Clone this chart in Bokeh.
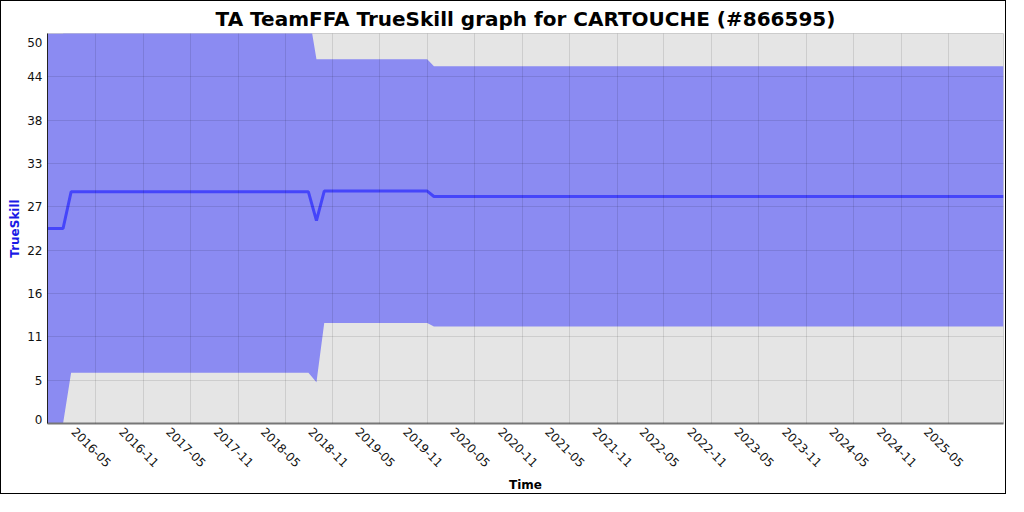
import math
from datetime import datetime
from bokeh.plotting import figure
from bokeh.models import FixedTicker, Range1d, ColumnDataSource
from bokeh.embed import file_html
from bokeh.resources import INLINE

# ---- data ----
dates = ["2015-10-28", "2015-12-27", "2016-01-27", "2018-07-30", "2018-08-30",
         "2018-09-29", "2019-10-31", "2019-11-26", "2025-11-30"]
mu = [25.0, 25.0, 29.7, 29.7, 26.0, 29.8, 29.8, 29.1, 29.1]
lower = [0.0, 0.0, 6.5, 6.5, 5.3, 12.9, 12.9, 12.45, 12.45]
upper = [50.0, 50.0, 52.9, 52.9, 46.7, 46.7, 46.7, 45.8, 45.8]

x_tick_labels = ["2016-05", "2016-11", "2017-05", "2017-11", "2018-05", "2018-11",
                 "2019-05", "2019-11", "2020-05", "2020-11", "2021-05", "2021-11",
                 "2022-05", "2022-11", "2023-05", "2023-11", "2024-05", "2024-11",
                 "2025-05"]
y_tick_values = [0, 50 / 9, 100 / 9, 150 / 9, 200 / 9, 250 / 9, 300 / 9, 350 / 9, 400 / 9, 50]
y_tick_labels = ["0", "5", "11", "16", "22", "27", "33", "38", "44", "50"]

title = "TA TeamFFA TrueSkill graph for CARTOUCHE (#866595)"


def to_ms(s):
    return int(datetime.strptime(s, "%Y-%m-%d").timestamp() * 1000)


xs = [to_ms(d) for d in dates]
src = ColumnDataSource(dict(x=xs, mu=mu, lo=lower, hi=upper))

FONT = "DejaVu Sans"
LBL = "#111111"

W, H = 1006, 494
ML, MR, MT, MB = 46, 4, 32, 68
FW, FH = W - ML - MR, H - MT - MB

p = figure(width=W, height=H, output_backend="svg", toolbar_location=None,
           x_axis_type="datetime",
           x_range=Range1d(xs[0], xs[-1]), y_range=Range1d(0, 50),
           min_border_left=ML, min_border_right=MR, min_border_top=MT, min_border_bottom=MB)
p.styles = {"border": "1px solid black"}

p.title.text = title
p.title.text_font = FONT
p.title.text_font_size = "20px"
p.title.text_font_style = "bold"
p.title.text_color = "black"
p.title.align = "center"
p.title.offset = -21
p.title.standoff = 6

p.background_fill_color = "#e5e5e5"
p.border_fill_color = "white"
p.outline_line_color = "#cccccc"

p.varea(x="x", y1="lo", y2="hi", source=src, fill_color="#8b8bf2")
p.line(x="x", y="mu", source=src, line_color="#4545fa", line_width=3)

# grid on the true tick positions
xt = [to_ms(s + "-01") for s in x_tick_labels]
p.xgrid.ticker = FixedTicker(ticks=xt)
p.ygrid.ticker = FixedTicker(ticks=y_tick_values)

# axis label anchors: rotated x labels are centred on their grid lines (as in the
# reference), and the two end y labels are kept inside the frame
ms_per_px = (xs[-1] - xs[0]) / FW
x_lab = [int(t - 22 * ms_per_px) for t in xt]
p.xaxis.ticker = FixedTicker(ticks=x_lab)
p.xaxis.major_label_overrides = {t: l for t, l in zip(x_lab, x_tick_labels)}
p.xaxis.major_label_orientation = -math.pi / 4

u_per_px = 50 / FH
y_lab = list(y_tick_values)
y_lab[0] = y_tick_values[0] + 4 * u_per_px
y_lab[-1] = y_tick_values[-1] - 9 * u_per_px
p.yaxis.ticker = FixedTicker(ticks=y_lab)
p.yaxis.major_label_overrides = {t: l for t, l in zip(y_lab, y_tick_labels)}

for ax in (p.xaxis[0], p.yaxis[0]):
    ax.major_tick_out = 0
    ax.major_tick_in = 0
    ax.minor_tick_out = 0
    ax.minor_tick_in = 0
    ax.major_label_text_font = FONT
    ax.major_label_text_font_size = "12px"
    ax.major_label_text_color = LBL
    ax.axis_label_text_font = FONT
    ax.axis_label_text_font_style = "bold"
    ax.axis_label_text_font_size = "12px"

p.yaxis.major_label_standoff = 5
p.xaxis.major_label_standoff = 6
p.yaxis.axis_label = "TrueSkill"
p.yaxis.axis_label_text_color = "#1a1ae6"
p.yaxis.axis_line_color = "#222222"
p.yaxis.axis_label_standoff = 2
p.xaxis.axis_label = "Time"
p.xaxis.axis_label_text_color = "black"
p.xaxis.axis_line_color = "#777777"
p.xaxis.axis_line_width = 2
p.xaxis.axis_label_standoff = 4

for g in (p.xgrid[0], p.ygrid[0]):
    g.grid_line_color = "black"
    g.grid_line_alpha = 0.1
    g.level = "annotation"

open("out.html", "w").write(file_html(p, INLINE))
